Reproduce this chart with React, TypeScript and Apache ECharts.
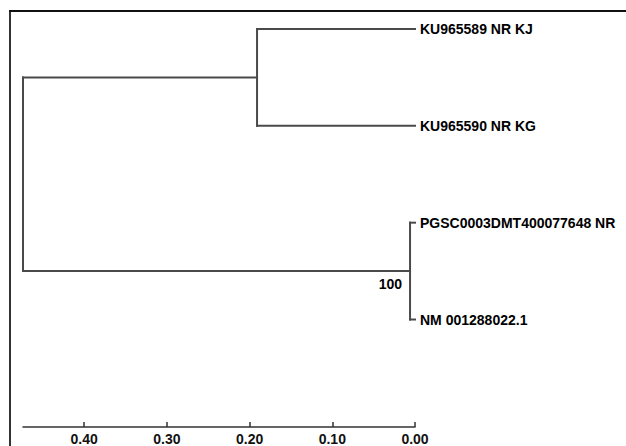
import React, { useEffect, useRef } from "react";
import * as echarts from "echarts";

// ---- Data ----
const leafNames = [
  "KU965589 NR KJ",
  "KU965590 NR KG",
  "PGSC0003DMT400077648 NR",
  "NM 001288022.1",
];
const leafHeights = [0, 0, 0, 0];
// internal clades: children refer to "L<i>" (leaf) or "C<i>" (clade)
const cladeChildren = [
  ["L0", "L1"],
  ["L2", "L3"],
  ["C0", "C1"],
];
const cladeHeights = [0.191, 0.006, 0.474];
const cladeSupport = [null, 100, null];
const scaleTicks = [0, 0.1, 0.2, 0.3, 0.4];

const FONT = '"Liberation Sans", Arial, sans-serif';

function buildTree() {
  const pos: Record<string, [number, number]> = {};
  leafNames.forEach((_, i) => {
    pos["L" + i] = [leafHeights[i], i];
  });
  const segments: number[][] = [];
  cladeChildren.forEach((children, ci) => {
    const h = cladeHeights[ci];
    const ys = children.map((c) => pos[c][1]);
    const yMin = Math.min(...ys);
    const yMax = Math.max(...ys);
    segments.push([h, yMin, h, yMax]);
    children.forEach((c) => {
      segments.push([h, pos[c][1], pos[c][0], pos[c][1]]);
    });
    pos["C" + ci] = [h, (yMin + yMax) / 2];
  });
  const leafLabels = leafNames.map((n, i) => [leafHeights[i], i, n]);
  const supportLabels: any[] = [];
  cladeSupport.forEach((s, ci) => {
    if (s != null) {
      const p = pos["C" + ci];
      supportLabels.push([p[0], p[1], String(s)]);
    }
  });
  return { segments, leafLabels, supportLabels };
}

export default function App() {
  const ref = useRef<HTMLDivElement>(null);
  useEffect(() => {
    if (!ref.current) return;
    const chart = echarts.init(ref.current, null, { renderer: "svg" });
    const { segments, leafLabels, supportLabels } = buildTree();
    const rootH = cladeHeights[cladeHeights.length - 1];
    chart.setOption({
      animation: false,
      backgroundColor: "#ffffff",
      grid: { left: 23, right: 211, top: 29, height: 400, containLabel: false },
      xAxis: {
        type: "value",
        position: "bottom",
        inverse: true,
        min: 0,
        max: rootH,
        splitLine: { show: false },
        axisLine: { show: true, onZero: false, lineStyle: { color: "#333", width: 1.5 } },
        axisTick: {
          show: true,
          inside: true,
          length: 5,
          customValues: scaleTicks,
          lineStyle: { color: "#333", width: 1.5 },
        },
        axisLabel: {
          customValues: scaleTicks,
          formatter: (v: number) => v.toFixed(2),
          color: "#111",
          fontSize: 14,
          fontWeight: "bold",
          fontFamily: FONT,
          margin: 5,
        },
      },
      yAxis: {
        type: "value",
        inverse: true,
        min: 0,
        max: 4.11,
        show: false,
      },
      graphic: {
        elements: [
          {
            type: "rect",
            id: "frameLeft",
            z: 100,
            shape: { x: 9, y: 10, width: 2, height: 436 },
            style: { fill: "#333" },
          },
          {
            type: "rect",
            id: "frameTop",
            z: 100,
            shape: { x: 9, y: 10, width: 617, height: 2 },
            style: { fill: "#111" },
          },
        ],
      },
      series: [
        {
          type: "custom",
          data: segments,
          encode: { x: [0, 2], y: [1, 3] },
          renderItem: (params: any, api: any) => {
            const p1 = api.coord([api.value(0), api.value(1)]);
            const p2 = api.coord([api.value(2), api.value(3)]);
            return {
              type: "line",
              shape: { x1: p1[0], y1: p1[1], x2: p2[0], y2: p2[1] },
              style: { stroke: "#4a4a4a", lineWidth: 2, lineCap: "square" },
            };
          },
        },
        {
          type: "custom",
          data: leafLabels,
          encode: { x: 0, y: 1 },
          renderItem: (params: any, api: any) => {
            const p = api.coord([api.value(0), api.value(1)]);
            return {
              type: "text",
              x: p[0] + 5,
              y: p[1],
              style: {
                text: leafLabels[params.dataIndex][2],
                fill: "#000",
                fontSize: 14,
                fontWeight: "bold",
                fontFamily: FONT,
                align: "left",
                verticalAlign: "middle",
              },
            };
          },
        },
        {
          type: "custom",
          data: supportLabels,
          encode: { x: 0, y: 1 },
          renderItem: (params: any, api: any) => {
            const p = api.coord([api.value(0), api.value(1)]);
            return {
              type: "text",
              x: p[0] - 8,
              y: p[1] + 13,
              style: {
                text: supportLabels[params.dataIndex][2],
                fill: "#000",
                fontSize: 14,
                fontWeight: "bold",
                fontFamily: FONT,
                align: "right",
                verticalAlign: "middle",
              },
            };
          },
        },
      ],
    });
    return () => chart.dispose();
  }, []);
  return (
    <div
      ref={ref}
      style={{ position: "fixed", left: 0, top: 0, width: 626, height: 446 }}
    />
  );
}
